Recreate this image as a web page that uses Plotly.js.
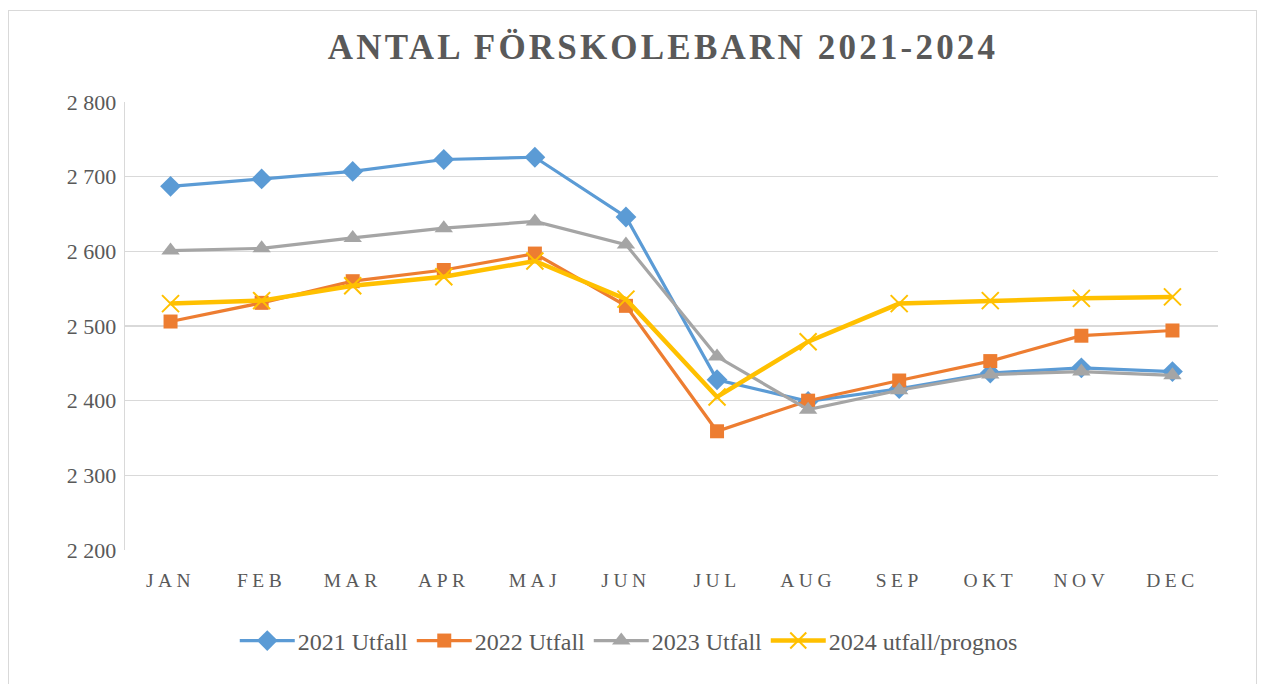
<!DOCTYPE html>
<html>
<head>
<meta charset="utf-8">
<script src="https://cdn.plot.ly/plotly-3.0.1.min.js"></script>
<style>
  html, body { margin: 0; padding: 0; background: #fff; }
  #chart { position: absolute; left: 0; top: 0; width: 1263px; height: 684px; }
  #frame { position: absolute; left: 8px; top: 10px; width: 1247px; height: 690px; border: 1px solid #d9d9d9; pointer-events: none; }
  .gtitle { letter-spacing: 3.2px; }
  .xtick text { letter-spacing: 4.5px; }
</style>
</head>
<body>
<div id="chart"></div>
<div id="frame"></div>
<script>
const months = ["JAN","FEB","MAR","APR","MAJ","JUN","JUL","AUG","SEP","OKT","NOV","DEC"];
const seriesNames = ["2021 Utfall","2022 Utfall","2023 Utfall","2024 utfall/prognos"];
const v2021 = [2687, 2697, 2707, 2723, 2726, 2646, 2428, 2399, 2416, 2437, 2444, 2439];
const v2022 = [2506, 2531, 2560, 2575, 2597, 2527, 2359, 2400, 2427, 2453, 2487, 2494];
const v2023 = [2601, 2604, 2618, 2631, 2640, 2609, 2459, 2388, 2414, 2435, 2439, 2434];
const v2024 = [2530, 2534, 2554, 2566, 2587, 2536, 2405, 2479, 2530, 2534, 2537, 2539];
const yTickVals = [2200, 2300, 2400, 2500, 2600, 2700, 2800];
const yTickText = ["2 200","2 300","2 400","2 500","2 600","2 700","2 800"];

const font = "'Liberation Serif', 'Times New Roman', serif";
const textCol = "#595959";

const traces = [
  {name: seriesNames[0], y: v2021, color: "#5B9BD5", symbol: "diamond", size: 16, lw: 3.2},
  {name: seriesNames[1], y: v2022, color: "#ED7D31", symbol: "square", size: 14, lw: 3.2},
  {name: seriesNames[2], y: v2023, color: "#A5A5A5", symbol: "triangle-up", size: 16, lw: 3.2},
  {name: seriesNames[3], y: v2024, color: "#FFC000", symbol: "x-thin-open", size: 17, lw: 4.5}
].map(s => ({
  type: "scatter",
  mode: "lines+markers",
  name: s.name,
  x: months,
  y: s.y,
  line: {color: s.color, width: s.lw},
  marker: s.symbol === "x-thin-open"
    ? {symbol: s.symbol, size: s.size, color: s.color, line: {color: s.color, width: 2}}
    : {symbol: s.symbol, size: s.size, color: s.color, line: {width: 0}}
}));

const layout = {
  width: 1263, height: 684,
  paper_bgcolor: "#fff", plot_bgcolor: "#fff",
  margin: {l: 125, r: 45, t: 102, b: 134},
  font: {family: font, color: textCol, size: 22},
  title: {
    text: "<b>ANTAL FÖRSKOLEBARN 2021-2024</b>",
    font: {family: font, size: 35, color: textCol},
    x: 0.525, xanchor: "center", y: 0.931, yanchor: "middle"
  },
  xaxis: {
    type: "category",
    range: [-0.5, 11.5],
    showgrid: false,
    showline: false,
    ticks: "",
    ticklabelstandoff: 16,
    tickfont: {family: font, size: 19.5, color: textCol},
    fixedrange: true
  },
  yaxis: {
    range: [2200, 2800],
    tickvals: yTickVals,
    ticktext: yTickText,
    showgrid: true, gridcolor: "#d9d9d9", gridwidth: 1.3,
    showline: true, linecolor: "#d9d9d9", linewidth: 1.3,
    zeroline: false,
    ticks: "",
    ticklabelstandoff: 3,
    tickfont: {family: font, size: 22, color: textCol},
    fixedrange: true
  },
  showlegend: true,
  legend: {
    orientation: "h",
    x: 0.105, xanchor: "left",
    y: -0.203, yanchor: "middle",
    font: {family: font, size: 24, color: textCol},
    entrywidth: 132, entrywidthmode: "pixels",
    traceorder: "normal"
  }
};

Plotly.newPlot("chart", traces, layout, {displayModeBar: false, staticPlot: true}).then(gd => {
  // lengthen legend line samples like the original (≈55px) and move the labels accordingly
  gd.querySelectorAll(".legend .traces").forEach(tr => {
    tr.querySelectorAll(".legendlines path").forEach(p => p.setAttribute("d", "M0,0h55"));
    tr.querySelectorAll(".legendpoints path").forEach(p => p.setAttribute("transform", "translate(27.5,0)"));
    const t = tr.querySelector(".legendtext");
    if (t) t.setAttribute("x", "58");
  });
  gd.querySelectorAll(".legend [clip-path]").forEach(el => el.removeAttribute("clip-path"));
});
</script>
</body>
</html>
